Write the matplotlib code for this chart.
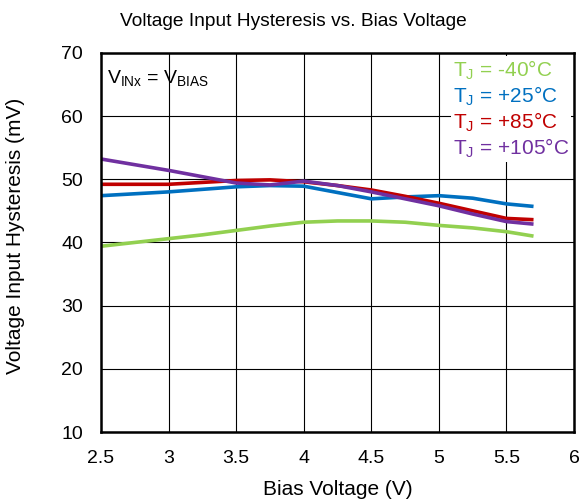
import matplotlib
matplotlib.use('Agg')
import matplotlib.pyplot as plt

plt.rcParams['font.family'] = ['Liberation Sans', 'DejaVu Sans']

# bias voltage sweep (V)
bias = [2.5, 2.75, 3.0, 3.25, 3.5, 3.75, 4.0, 4.25, 4.5, 4.75, 5.0, 5.25, 5.5, 5.7]

# hysteresis (mV) at each junction temperature
hyst_m40 = [39.4, 40.0, 40.6, 41.2, 41.9, 42.6, 43.2, 43.4, 43.4, 43.2, 42.7, 42.3, 41.7, 41.0]
hyst_p25 = [47.4, 47.7, 48.0, 48.4, 48.8, 49.0, 48.9, 47.9, 46.9, 47.2, 47.4, 47.0, 46.1, 45.7]
hyst_p85 = [49.2, 49.2, 49.2, 49.5, 49.8, 49.9, 49.6, 49.0, 48.3, 47.3, 46.2, 45.0, 43.8, 43.6]
hyst_p105 = [53.2, 52.3, 51.4, 50.4, 49.4, 49.1, 49.7, 49.0, 48.0, 46.9, 45.8, 44.5, 43.3, 42.9]

labels = [r'T$_\mathregular{J}$ = -40°C', r'T$_\mathregular{J}$ = +25°C',
          r'T$_\mathregular{J}$ = +85°C', r'T$_\mathregular{J}$ = +105°C']
colors = ['#92D050', '#0070C0', '#C00000', '#7030A0']

fig = plt.figure(figsize=(5.84, 5.03), dpi=100)
ax = fig.add_axes([0.173, 0.141, 0.810, 0.754])

for y, lab, c in zip([hyst_m40, hyst_p25, hyst_p85, hyst_p105], labels, colors):
    ax.plot(bias, y, color=c, lw=2.6, label=lab, solid_capstyle='butt')

ax.set_xlim(2.5, 6)
ax.set_ylim(10, 70)
ax.set_xticks([2.5, 3, 3.5, 4, 4.5, 5, 5.5, 6])
ax.set_xticklabels(['2.5', '3', '3.5', '4', '4.5', '5', '5.5', '6'])
ax.set_yticks(range(10, 71, 10))
ax.grid(True, color='black', lw=0.8)
ax.tick_params(length=0, labelsize=14, pad=13)
for s in ax.spines.values():
    s.set_linewidth(1.8)

ax.set_xlabel('Bias Voltage (V)', fontsize=15, labelpad=9)
ax.set_ylabel('Voltage Input Hysteresis (mV)', fontsize=15)
ax.yaxis.set_label_coords(-0.16, 0.517)
fig.text(0.502, 0.957, 'Voltage Input Hysteresis vs. Bias Voltage', fontsize=13.8,
         ha='center', va='center')

ax.text(0.013, 0.958, r'V$_\mathregular{INx}$ = V$_\mathregular{BIAS}$', transform=ax.transAxes,
        fontsize=14, va='top', ha='left')

leg = ax.legend(loc='upper right', handlelength=0, handletextpad=0, labelcolor='linecolor',
                frameon=True, fancybox=False, edgecolor='none', framealpha=1,
                fontsize=15, labelspacing=0.12, borderaxespad=0.15, borderpad=0.1)

fig.savefig('out.png', dpi=100)
